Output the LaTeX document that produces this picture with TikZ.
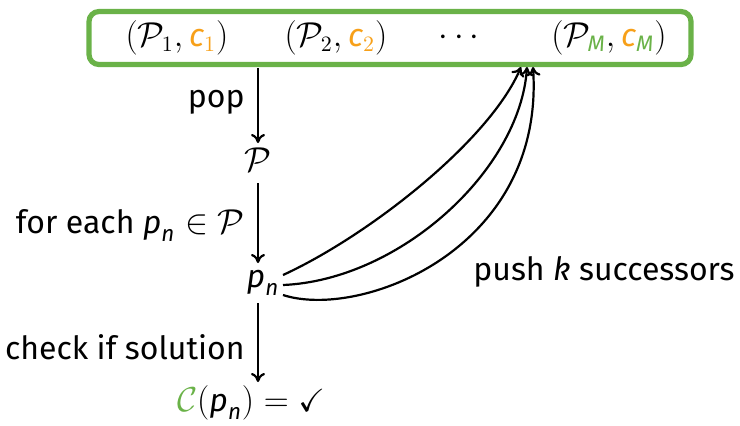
\documentclass[tikz,border=0pt]{standalone}
\usepackage{amsmath,amssymb}
\usepackage{fontspec}
\setmainfont{Fira Sans}
\usetikzlibrary{arrows.meta}
\definecolor{qgreen}{RGB}{106,178,72}
\definecolor{qorange}{RGB}{247,160,25}
\newcommand{\sv}[1]{\text{\normalfont\itshape #1}}
\begin{document}
\begin{tikzpicture}[x={(0.5pt,0)},y={(0,-0.5pt)},
  every node/.style={font=\fontsize{16}{18}\selectfont},
  arr/.style={-{To[length=4.5pt,width=7pt]},line width=1.1pt},
  curv/.style={-{To[length=4.5pt,width=7pt]},line width=1.1pt},
  lbl/.style={anchor=east,inner sep=0pt}]
\useasboundingbox (0,0) rectangle (740,425);
% queue box
\node[draw=qgreen,line width=2.6pt,rounded corners=5pt,minimum width=301pt,minimum height=26.5pt] (queue) at (390,38) {};
\node (e1) at (177,38) {$(\mathcal{P}_1, \textcolor{qorange}{\sv{c}_1})$};
\node (e2) at (336,38) {$(\mathcal{P}_2, \textcolor{qorange}{\sv{c}_2})$};
\node (e3) at (462,38) {$\cdots$};
\node (e4) at (609,38) {$(\mathcal{P}_{\textcolor{qgreen}{\sv{M}}}, \textcolor{qorange}{\sv{c}}_{\textcolor{qgreen}{\sv{M}}})$};
% column
\node[inner sep=0pt] (P) at (258,160) {$\mathcal{P}$};
\node[inner sep=0pt] (pn) at (263,283) {$\sv{p}_{\sv{n}}$};
\node[inner sep=0pt] (C) at (251,403) {$\textcolor{qgreen}{\mathcal{C}}(\sv{p}_{\sv{n}}) = \checkmark$};
\coordinate (a0) at (258,68);
\coordinate (a1) at (258,143);
\coordinate (b0) at (258,183);
\coordinate (b1) at (258,263);
\coordinate (c0) at (258,303);
\coordinate (c1) at (258,382);
\draw[arr] (a0) -- (a1);
\draw[arr] (b0) -- (b1);
\draw[arr] (c0) -- (c1);
\node[lbl] (lpop) at (245,102) {pop};
\node[lbl] (lfor) at (245,225) {for each $\sv{p}_{\sv{n}} \in \mathcal{P}$};
\node[lbl] (lchk) at (245,347) {check if solution};
% curves
\coordinate (s1) at (283,275);
\coordinate (s2) at (283,285);
\coordinate (s3) at (283,295);
\coordinate (t1) at (521,67);
\coordinate (t2) at (527,67);
\coordinate (t3) at (533,67);
\draw[curv] (s1) .. controls (370,235) and (490,140) .. (t1);
\draw[curv] (s2) .. controls (400,280) and (520,170) .. (t2);
\draw[curv] (s3) .. controls (360,320) and (545,250) .. (t3);
\node[anchor=west,inner sep=0pt] (lpush) at (473,272) {push \textit{k} successors};
\end{tikzpicture}
\end{document}
